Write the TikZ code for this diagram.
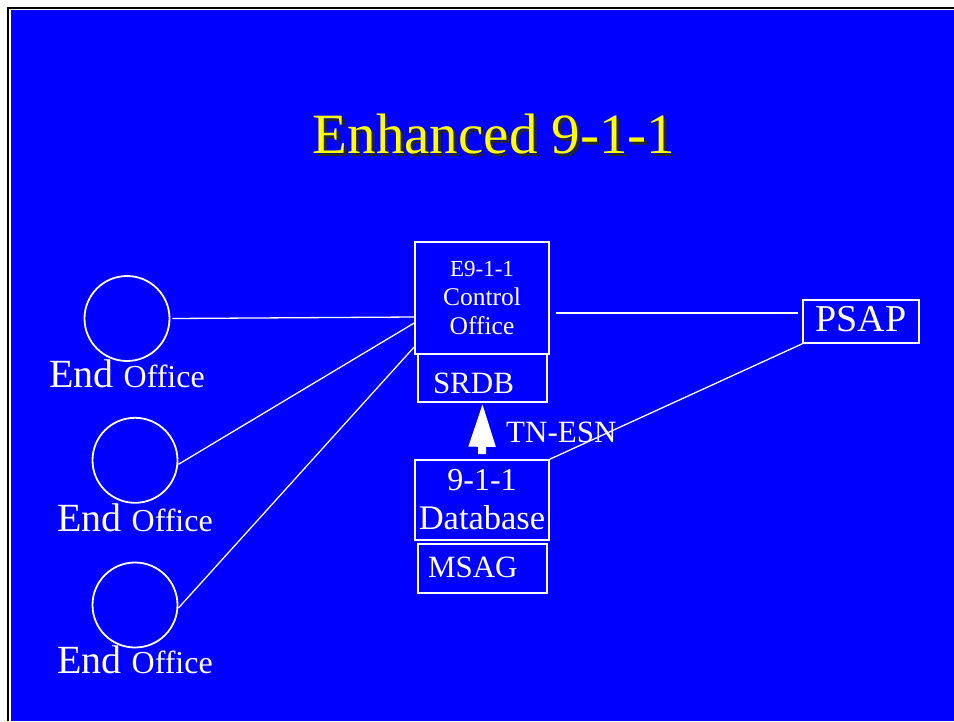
\documentclass[tikz,border=0pt]{standalone}
\usepackage{fontspec}
\setmainfont{Liberation Serif}
\usetikzlibrary{shapes}
\usetikzlibrary{arrows.meta}
\definecolor{slideblue}{RGB}{0,0,255}
\definecolor{titleyellow}{RGB}{255,255,0}
\newcommand{\fsize}[1]{\fontsize{#1}{#1}\selectfont}
\newcommand{\eofficetext}{{\fsize{40}End }{\fsize{32}Office}}

\begin{document}
\begin{tikzpicture}[x=1pt,y=-1pt]
					\tikzstyle{box}=[draw=white, line width=1.6pt, inner sep=0pt, text=white]
					\tikzstyle{office}=[circle, draw=white, line width=1.8pt, minimum size=85pt, inner sep=0pt]
					\tikzstyle{wire}=[draw=white, line width=1.3pt]
					\tikzstyle{lab}=[text=white, inner sep=0pt, anchor=base]

					\useasboundingbox (0,0) rectangle (954,721);
					\fill[white] (0,0) rectangle (954,721);
					\fill[black] (7,7) rectangle (954,721);
					\fill[white] (9,9) rectangle (954,721);
					\fill[slideblue] (11,10) rectangle (954,721);

					\node[lab, text=black!85] (titleshadow) at (497,156) {\fsize{57}Enhanced 9-1-1};
					\node[lab, text=titleyellow] (title) at (494,153) {\fsize{57}Enhanced 9-1-1};

					\node[office] (eo1) at (127,318.5) {};
					\node[office] (eo2) at (135,460.3) {};
					\node[office] (eo3) at (135,605) {};
					\node[lab] (eo1lab) at (127,387) {\eofficetext};
					\node[lab] (eo2lab) at (135,531) {\eofficetext};
					\node[lab] (eo3lab) at (135,673) {\eofficetext};

					\node[box, minimum width=134pt, minimum height=112pt, align=center, font=\fontsize{25.5}{29}\selectfont] (ctrl) at (482,298) {{\fsize{23}E9-1-1}\\Control\\Office};
					\node[box, minimum width=129pt, minimum height=48pt, text width=99pt, align=left, text height=30pt, text depth=0pt, font=\fsize{31}] (srdb) at (482.5,378) {SRDB};
					\node[box, minimum width=134pt, minimum height=80pt, align=center, font=\fontsize{32}{39}\selectfont] (db) at (482,500) {9-1-1\\{\fsize{34.5}Database}};
					\node[box, minimum width=129pt, minimum height=49pt, text width=109pt, align=left, text height=17pt, text depth=0pt, font=\fsize{31}] (msag) at (482.5,568.5) {MSAG};
					\node[box, minimum width=116pt, minimum height=43pt, text height=20pt, text depth=0pt, font=\fsize{38}] (psap) at (861,321.5) {PSAP};
					\node[lab, font=\fsize{31}, anchor=base west] (tnesn) at (506,442) {TN-ESN};

					\draw[white, line width=8pt, -{Triangle[length=44pt, width=25pt]}] ([yshift=5pt]db.north) -- (srdb.south);
					\draw[wire] ([xshift=2pt]eo1.east) -- ([yshift=-19pt]ctrl.west);
					\draw[wire] ([yshift=-4pt]eo2.east) -- ([yshift=-25pt]ctrl.west);
					\draw[wire] ([yshift=-3pt]eo3.east) -- ([yshift=-49pt]ctrl.west);
					\draw[wire] ([shift={(6pt,-15pt)}]ctrl.east) -- ([shift={(-4pt,8.5pt)}]psap.west);
					\draw[wire] (db.north east) -- (psap.south west);
\end{tikzpicture}
\end{document}
